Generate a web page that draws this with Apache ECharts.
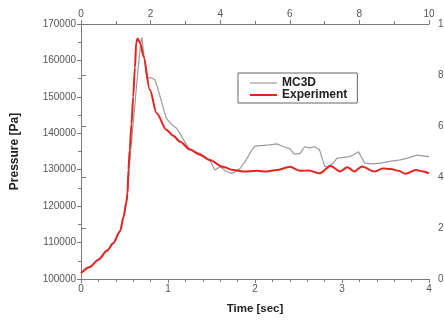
<!DOCTYPE html>
<html><head><meta charset="utf-8">
<script src="https://cdn.jsdelivr.net/npm/echarts@6/dist/echarts.min.js"></script>
<style>html,body{margin:0;padding:0;background:#fff}#c{width:444px;height:320px}</style>
</head><body><div id="c"></div>
<script>
var expTime = [0, 0.1, 0.2, 0.3, 0.37, 0.45, 0.49, 0.52, 0.535, 0.545, 0.56, 0.58, 0.6, 0.62, 0.635, 0.65, 0.68, 0.72, 0.79, 0.87, 0.98, 1.06, 1.14, 1.25, 1.36, 1.48, 1.63, 1.75, 1.87, 2.02, 2.13, 2.25, 2.4, 2.52, 2.62, 2.74, 2.87, 2.98, 3.06, 3.14, 3.23, 3.37, 3.47, 3.56, 3.65, 3.73, 3.85, 3.92, 4.0];
var expPressure = [101600, 103300, 105300, 107800, 109800, 113200, 117100, 120900, 123500, 130000, 135400, 142500, 150000, 158000, 165000, 166000, 164800, 161000, 152000, 145500, 141000, 139300, 137700, 135600, 134200, 132700, 130800, 129900, 129500, 129700, 129500, 129900, 130800, 129700, 129800, 129000, 131000, 129500, 130700, 129500, 130900, 129500, 130300, 130200, 129700, 128900, 129900, 129600, 129000];
var mcTime = [0, 0.1, 0.2, 0.3, 0.37, 0.45, 0.49, 0.52, 0.54, 0.56, 0.6, 0.65, 0.69, 0.7, 0.72, 0.755, 0.8, 0.85, 0.88, 0.91, 0.98, 1.05, 1.1, 1.18, 1.25, 1.3, 1.37, 1.45, 1.49, 1.54, 1.6, 1.67, 1.73, 1.78, 1.83, 1.88, 1.92, 1.96, 2.0, 2.1, 2.17, 2.25, 2.33, 2.4, 2.45, 2.52, 2.57, 2.63, 2.68, 2.74, 2.8, 2.83, 2.9, 2.94, 3.0, 3.09, 3.15, 3.19, 3.21, 3.26, 3.35, 3.44, 3.55, 3.67, 3.75, 3.86, 3.93, 4.0];
var mcPressure = [101600, 103300, 105300, 107800, 109800, 113200, 117100, 120900, 125000, 132000, 143000, 156000, 165500, 166300, 162000, 155100, 155300, 154700, 152500, 150000, 144100, 142200, 141400, 138200, 135400, 135000, 134500, 133000, 132200, 129900, 130800, 129500, 129000, 129500, 130400, 132000, 133600, 135300, 136500, 136700, 136800, 137100, 136300, 135800, 134300, 134500, 136300, 136000, 136300, 135600, 131000, 130800, 131800, 133100, 133300, 133600, 134300, 134900, 134000, 131800, 131600, 131800, 132300, 132700, 133200, 134000, 133800, 133600];
var bottomTicks = [0, 4, 1];
var topTicks = [0, 10, 2];
var leftTicks = [100000, 170000, 10000];
var rightTicks = [0, 10, 2];

function pairs(xs, ys) { return xs.map(function (x, i) { return [x, ys[i]]; }); }

var axisCol = '#7a7a7a';
var FONT = 'Liberation Sans, Arial, sans-serif';
var labelStyle = { color: '#555', fontSize: 10, fontFamily: FONT };
function axisBase(extra) {
  var a = {
    axisLine: { show: true, lineStyle: { color: axisCol, width: 1 } },
    axisTick: { show: true, inside: false, length: 4, lineStyle: { color: axisCol } },
    minorTick: { show: false },
    splitLine: { show: false },
    axisLabel: Object.assign({ margin: 5 }, labelStyle)
  };
  return Object.assign(a, extra);
}

var chart = echarts.init(document.getElementById('c'), null, { renderer: 'canvas' });
chart.setOption({
  animation: false,
  backgroundColor: '#fff',
  grid: { left: 81, right: 15, top: 24, bottom: 41, containLabel: false, outerBoundsMode: 'none' },
  legend: {
    orient: 'vertical', left: 238, top: 73,
    padding: [4, 10, 2, 12], itemGap: 0, itemWidth: 27, itemHeight: 14,
    borderColor: '#666', borderWidth: 1,
    textStyle: { fontSize: 12, fontWeight: 'bold', color: '#222', fontFamily: FONT },
    data: [
      { name: 'MC3D', icon: 'path://M0,0H27V1.2H0Z' },
      { name: 'Experiment', icon: 'path://M0,0H27V2H0Z' }
    ]
  },
  xAxis: [
    axisBase({ type: 'value', position: 'bottom', min: bottomTicks[0], max: bottomTicks[1], interval: bottomTicks[2],
      minorTick: { show: true, splitNumber: 5, length: 3, lineStyle: { color: axisCol } },
      name: 'Time [sec]', nameLocation: 'middle', nameGap: 24,
      nameTextStyle: { fontSize: 11.5, fontWeight: 'bold', color: '#222', fontFamily: FONT } }),
    axisBase({ type: 'value', position: 'top', min: topTicks[0], max: topTicks[1], interval: topTicks[2],
      minorTick: { show: true, splitNumber: 2, length: 3, lineStyle: { color: axisCol } } })
  ],
  yAxis: [
    axisBase({ type: 'value', position: 'left', min: leftTicks[0], max: leftTicks[1], interval: leftTicks[2],
      minorTick: { show: true, splitNumber: 2, length: 3, lineStyle: { color: axisCol } },
      name: 'Pressure [Pa]', nameLocation: 'middle', nameGap: 60, nameRotate: 90,
      nameTextStyle: { fontSize: 12, fontWeight: 'bold', color: '#222', fontFamily: FONT },
      axisLabel: Object.assign({ margin: 5, formatter: function (v) { return String(v); } }, labelStyle) }),
    axisBase({ type: 'value', position: 'right', min: rightTicks[0], max: rightTicks[1], interval: rightTicks[2],
      axisTick: { show: true, length: 5, lineStyle: { color: axisCol } },
      axisLabel: Object.assign({ margin: 9 }, labelStyle) })
  ],
  series: [
    { name: 'MC3D', type: 'line', xAxisIndex: 0, yAxisIndex: 0, showSymbol: false, symbol: 'none',
      data: pairs(mcTime, mcPressure), lineStyle: { color: '#9a9a9a', width: 1.2 }, itemStyle: { color: '#9a9a9a' }, z: 2 },
    { name: 'Experiment', type: 'line', xAxisIndex: 0, yAxisIndex: 0, showSymbol: false, symbol: 'none',
      smooth: 0.3, smoothMonotone: 'x',
      data: pairs(expTime, expPressure), lineStyle: { color: '#e52420', width: 2 }, itemStyle: { color: '#e52420' }, z: 3 }
  ]
});
</script></body></html>
